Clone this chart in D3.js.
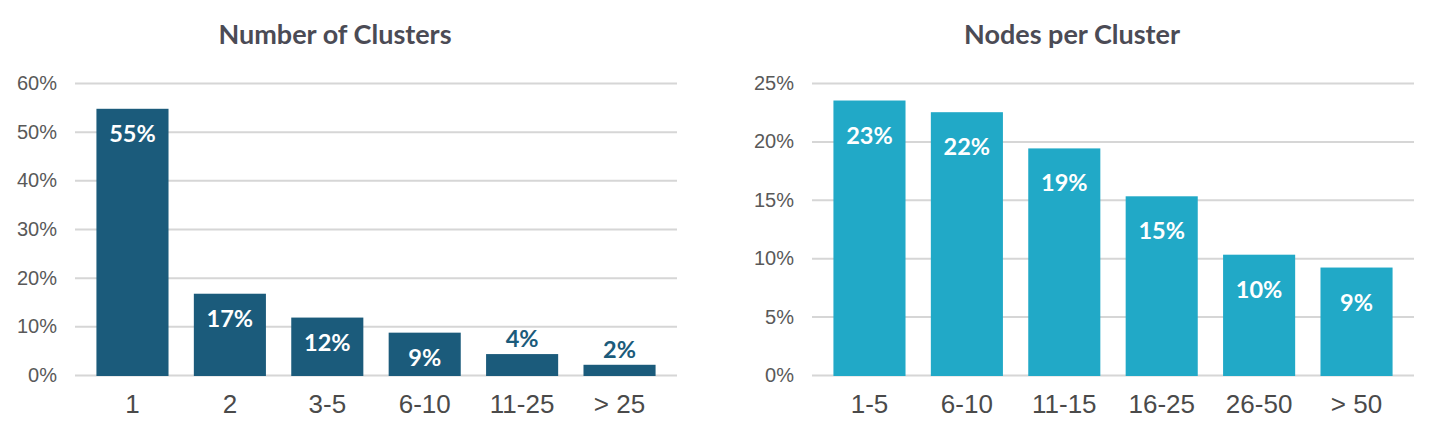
<!DOCTYPE html>
<html>
<head>
<meta charset="utf-8">
<script src="https://cdn.jsdelivr.net/npm/d3@7"></script>
<style>
  body { margin: 0; background: #fff; }
  svg { display: block; font-family: Lato, "Open Sans", sans-serif; }
</style>
</head>
<body>
<div id="chart"></div>
<script>
// Left panel data
var clusterCats = ["1", "2", "3-5", "6-10", "11-25", "> 25"];
var clusterVals = [54.7, 16.7, 11.8, 8.7, 4.3, 2.1];
var clusterLabels = ["55%", "17%", "12%", "9%", "4%", "2%"];
var clusterTicks = [0, 10, 20, 30, 40, 50, 60];

// Right panel data
var nodeCats = ["1-5", "6-10", "11-15", "16-25", "26-50", "> 50"];
var nodeVals = [23.5, 22.5, 19.4, 15.3, 10.3, 9.2];
var nodeLabels = ["23%", "22%", "19%", "15%", "10%", "9%"];
var nodeTicks = [0, 5, 10, 15, 20, 25];

var W = 1442, H = 444;

var svg = d3.select("#chart").append("svg")
    .attr("width", W)
    .attr("height", H);

function drawPanel(offsetX, title, cats, vals, labels, ticks, color, labelDy) {
    var plotLeft = 75, plotRight = 677, plotTop = 83, plotBottom = 375;

    var g = svg.append("g")
        .attr("transform", "translate(" + offsetX + ",0)");

    var x = d3.scaleBand()
        .domain(cats)
        .range([plotLeft, plotRight])
        .paddingInner(0.26)
        .paddingOuter(0.22);

    var y = d3.scaleLinear()
        .domain([0, d3.max(ticks)])
        .range([plotBottom, plotTop]);

    // title
    g.append("text")
        .attr("x", 335)
        .attr("y", 33)
        .attr("text-anchor", "middle")
        .attr("dominant-baseline", "central")
        .style("font-size", "27px")
        .style("font-weight", "bold")
        .style("fill", "#4b4b55")
        .text(title);

    // gridlines + y labels
    var yAxis = g.append("g")
        .attr("transform", "translate(" + plotLeft + ",0)")
        .call(d3.axisLeft(y).tickValues(ticks)
            .tickSize(-(plotRight - plotLeft))
            .tickPadding(18)
            .tickFormat(function(d) { return d + "%"; }));
    yAxis.select(".domain").remove();
    yAxis.selectAll(".tick line")
        .attr("stroke", "#d6d6d6")
        .attr("stroke-width", 2);
    yAxis.selectAll(".tick text")
        .style("font-size", "20px")
        .style("fill", "#595959");

    // bars
    g.selectAll(".bar")
        .data(vals)
        .enter().append("rect")
        .attr("class", "bar")
        .attr("x", function(d, i) { return x(cats[i]); })
        .attr("width", x.bandwidth())
        .attr("y", function(d) { return y(d); })
        .attr("height", function(d) { return y(0) - y(d) + 1; })
        .attr("fill", color);

    // value labels, inside if the bar is tall enough, else above
    g.selectAll(".val")
        .data(vals)
        .enter().append("text")
        .attr("class", "val")
        .attr("x", function(d, i) { return x(cats[i]) + x.bandwidth() / 2; })
        .attr("y", function(d) {
            return (y(0) - y(d)) > 35 ? y(d) + labelDy : y(d) - 16;
        })
        .attr("text-anchor", "middle")
        .attr("dominant-baseline", "central")
        .style("font-size", "23.5px")
        .style("font-weight", "bold")
        .style("fill", function(d) { return (y(0) - y(d)) > 35 ? "#ffffff" : color; })
        .text(function(d, i) { return labels[i]; });

    // x labels
    var xAxis = g.append("g")
        .attr("transform", "translate(0," + plotBottom + ")")
        .call(d3.axisBottom(x).tickSize(0).tickPadding(30));
    xAxis.select(".domain").remove();
    xAxis.selectAll(".tick text")
        .attr("dy", "0.32em")
        .style("font-size", "26px")
        .style("fill", "#4a4a4a");
}

drawPanel(0, "Number of Clusters", clusterCats, clusterVals, clusterLabels, clusterTicks, "#1b5b7b", 24);
drawPanel(737, "Nodes per Cluster", nodeCats, nodeVals, nodeLabels, nodeTicks, "#21a9c7", 34);
</script>
</body>
</html>
